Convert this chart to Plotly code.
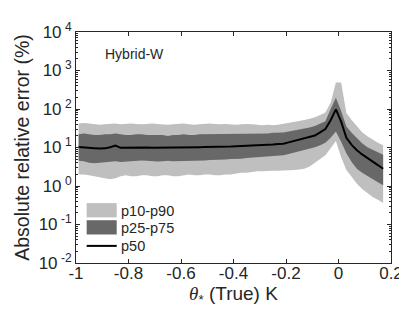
import plotly.graph_objects as go

# ---- data ----
theta = [-0.99, -0.97, -0.95, -0.93, -0.91, -0.89, -0.87, -0.85, -0.83, -0.81,
         -0.79, -0.77, -0.75, -0.73, -0.71, -0.69, -0.67, -0.65, -0.63, -0.61,
         -0.59, -0.57, -0.55, -0.53, -0.51, -0.49, -0.47, -0.45, -0.43, -0.41,
         -0.39, -0.37, -0.35, -0.33, -0.31, -0.29, -0.27, -0.25, -0.23, -0.21,
         -0.19, -0.17, -0.15, -0.13, -0.11, -0.09, -0.07, -0.05, -0.03, -0.01,
         0.01, 0.03, 0.05, 0.07, 0.09, 0.11, 0.13, 0.15, 0.17]

p50 = [10.3, 10.2, 10.0, 9.6, 9.4, 9.5, 10.2, 11.2, 9.8, 9.9,
       9.8, 10.0, 10.1, 10.0, 9.9, 9.9, 9.8, 9.8, 9.9, 10.0,
       10.1, 10.2, 10.1, 10.2, 10.3, 10.3, 10.4, 10.5, 10.6, 10.6,
       10.8, 10.9, 11.0, 11.1, 11.3, 11.5, 11.8, 12.0, 12.3, 12.6,
       13.6, 14.7, 15.8, 17.2, 18.4, 20.4, 24.8, 30.0, 51.0, 98.0,
       47.0, 17.8, 11.7, 8.5, 6.6, 5.4, 4.4, 3.5, 2.8]

p75 = [22, 23, 22, 21, 21, 22, 22, 23, 22, 21,
       21, 22, 22, 21, 21, 21, 21, 20, 21, 21,
       22, 21, 21, 22, 22, 22, 22, 22, 22, 23,
       23, 22, 22, 23, 23, 23, 23, 24, 24, 24.5,
       26, 27.5, 29.5, 31, 33, 36, 42, 48, 100, 195,
       89, 35, 24, 17.4, 12.9, 10.2, 8.7, 7.4, 6.5]

p90 = [42, 43, 42, 40, 39, 40, 41, 42, 40, 41,
       42, 41, 40, 41, 42, 41, 40, 39, 40, 41,
       42, 40, 39, 40, 41, 42, 41, 40, 41, 40,
       39, 40, 41, 40, 39, 38, 39, 38, 39, 41,
       44, 46, 49, 52, 56, 61, 70, 81, 145, 490,
       490, 79, 52, 35, 25, 19.5, 15.8, 13.2, 11.5]

p25 = [4.5, 4.4, 4.0, 3.9, 4.0, 4.1, 4.3, 4.4, 4.2, 4.3,
       4.4, 4.5, 4.6, 4.5, 4.4, 4.3, 4.4, 4.5, 4.4, 4.4,
       4.5, 4.6, 4.5, 4.5, 4.6, 4.7, 4.7, 4.8, 4.9, 5.0,
       5.0, 5.1, 5.3, 5.4, 5.5, 5.6, 5.8, 5.9, 6.1, 6.3,
       6.8, 7.4, 7.9, 8.5, 9.3, 10.2, 11.5, 13.2, 17.8, 26,
       14, 7.1, 4.2, 2.8, 2.2, 1.8, 1.5, 1.26, 1.05]

p10 = [2.0, 2.0, 1.9, 1.8, 1.7, 1.6, 1.5, 1.6, 1.8, 1.9,
       1.8, 1.8, 1.9, 1.9, 1.8, 1.8, 1.9, 1.9, 1.8, 1.8,
       1.9, 2.0, 1.9, 1.9, 2.0, 2.0, 1.9, 1.9, 2.0, 2.0,
       2.1, 2.2, 2.2, 2.3, 2.4, 2.4, 2.5, 2.5, 2.5, 2.5,
       2.6, 2.6, 2.7, 2.8, 3.2, 4.0, 4.8, 6.3, 9.5, 14.8,
       5.6, 2.6, 1.74, 1.15, 0.83, 0.65, 0.52, 0.44, 0.36]

x_ticks = [-1, -0.8, -0.6, -0.4, -0.2, 0, 0.2]
x_tick_labels = ["-1", "-0.8", "-0.6", "-0.4", "-0.2", "0", "0.2"]
y_ticks = [1e-2, 1e-1, 1e0, 1e1, 1e2, 1e3, 1e4]
y_exponents = ["-2", "-1", "0", "1", "2", "3", "4"]
legend_labels = ["p10-p90", "p25-p75", "p50"]

y_tick_labels = ["10<sup><span style='font-size:12px'> %s</span></sup>" % e for e in y_exponents]

LIGHT = "#bfbfbf"
DARK = "#686868"
AXC = "#262626"
FONT = "Liberation Sans, Arial, Helvetica, sans-serif"

fig = go.Figure()
fig.add_trace(go.Scatter(x=theta, y=p10, mode="lines", line=dict(width=0, color=LIGHT),
                         showlegend=False, hoverinfo="skip"))
fig.add_trace(go.Scatter(x=theta, y=p90, mode="lines", line=dict(width=0, color=LIGHT),
                         fill="tonexty", fillcolor=LIGHT, name=legend_labels[0], showlegend=False))
fig.add_trace(go.Scatter(x=theta, y=p25, mode="lines", line=dict(width=0, color=DARK),
                         showlegend=False, hoverinfo="skip"))
fig.add_trace(go.Scatter(x=theta, y=p75, mode="lines", line=dict(width=0, color=DARK),
                         fill="tonexty", fillcolor=DARK, name=legend_labels[1], showlegend=False))
fig.add_trace(go.Scatter(x=theta, y=p50, mode="lines", line=dict(width=2, color="black"),
                         name=legend_labels[2], showlegend=False))

minor_vals = [m * 10 ** e for e in range(-2, 4) for m in range(2, 10)]

fig.update_xaxes(range=[-1, 0.2], tickvals=x_ticks, ticktext=x_tick_labels,
                 ticks="inside", ticklen=4, tickcolor=AXC, tickwidth=1,
                 ticklabelstandoff=-5,
                 showline=True, linecolor=AXC, linewidth=1, mirror="ticks",
                 showgrid=False, zeroline=False,
                 tickfont=dict(size=17, color=AXC, family=FONT),
                 title=dict(text="<span style='font-family:Liberation Serif'><i>θ</i></span><sub>*</sub> (True) K",
                            font=dict(size=19, color=AXC, family=FONT), standoff=0))
fig.update_yaxes(type="log", range=[-2, 4], tickvals=y_ticks, ticktext=y_tick_labels,
                 ticks="inside", ticklen=4, tickcolor=AXC, tickwidth=1,
                 minor=dict(tickvals=minor_vals, ticks="inside", ticklen=2, tickcolor=AXC),
                 showline=True, linecolor=AXC, linewidth=1, mirror="ticks",
                 showgrid=False, zeroline=False,
                 tickfont=dict(size=17, color=AXC, family=FONT),
                 title=dict(text="Absolute relative error (%)",
                            font=dict(size=19.5, color=AXC, family=FONT), standoff=3))

# legend drawn in the lower-left corner of the axes
def px2x(px):
    return (px - 68) / 325.0

def py2y(py):
    return (255 - py) / 243.0

shapes = [
    dict(type="rect", xref="paper", yref="paper", x0=px2x(79), x1=px2x(110),
         y0=py2y(207), y1=py2y(192), fillcolor=LIGHT, line=dict(width=0)),
    dict(type="rect", xref="paper", yref="paper", x0=px2x(79), x1=px2x(110),
         y0=py2y(225), y1=py2y(210), fillcolor=DARK, line=dict(width=0)),
    dict(type="line", xref="paper", yref="paper", x0=px2x(79), x1=px2x(110),
         y0=py2y(237), y1=py2y(237), line=dict(width=2, color="black")),
]
annotations = [
    dict(text=legend_labels[0], x=px2x(112), y=py2y(200)),
    dict(text=legend_labels[1], x=px2x(112), y=py2y(218)),
    dict(text=legend_labels[2], x=px2x(112), y=py2y(237)),
]
annotations = [dict(a, xref="paper", yref="paper", xanchor="left", yanchor="middle",
                    showarrow=False, font=dict(size=14.5, color=AXC, family=FONT))
               for a in annotations]
annotations.append(dict(text="Hybrid-W", x=px2x(96), y=py2y(35), xref="paper", yref="paper",
                        xanchor="left", yanchor="middle", showarrow=False,
                        font=dict(size=14, color=AXC, family=FONT)))

fig.update_layout(width=407, height=309, margin=dict(l=68, r=14, t=12, b=54),
                  paper_bgcolor="white", plot_bgcolor="white",
                  shapes=shapes, annotations=annotations,
                  font=dict(family=FONT, color=AXC), showlegend=False)

fig.write_html("out.html")
